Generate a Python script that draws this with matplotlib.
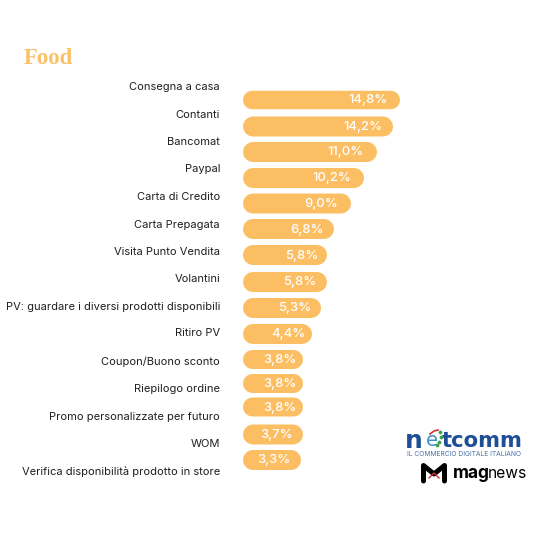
import matplotlib
matplotlib.use('Agg')
import matplotlib.pyplot as plt

categories = ['Consegna a casa', 'Contanti', 'Bancomat', 'Paypal', 'Carta di Credito',
              'Carta Prepagata', 'Visita Punto Vendita', 'Volantini',
              'PV: guardare i diversi prodotti disponibili', 'Ritiro PV',
              'Coupon/Buono sconto', 'Riepilogo ordine', 'Promo personalizzate per futuro',
              'WOM', 'Verifica disponibilità prodotto in store']
values = ['14,8%', '14,2%', '11,0%', '10,2%', '9,0%', '6,8%', '5,8%', '5,8%', '5,3%',
          '4,4%', '3,8%', '3,8%', '3,8%', '3,7%', '3,3%']
# the drawn bars are not to scale with the labels, so lengths are read off separately
bar_lengths = [157, 150, 134, 121, 108, 91, 84, 84, 78, 69, 60, 60, 60, 60, 58]

# hand placed rows, spacing in the original is uneven
bar_centers = [100, 126.5, 152, 178, 203.5, 229, 255, 282, 308, 334, 359.5, 383.5, 407, 434.5, 460]
bar_heights = [18.5, 20, 20, 20, 20, 20, 20, 20, 20, 20, 19, 19, 19, 20, 20]
label_centers = [87, 114.5, 142, 169.5, 197, 224.5, 252, 279.5, 306.5, 333.5, 361.5, 389, 416.5, 444, 471.5]
value_ends = [388, 382, 364, 351, 338, 323.5, 318, 316.5, 311, 305, 297, 297, 297, 293, 290.5]

ORANGE = '#FBBE62'
plt.rcParams['font.family'] = ['Inter', 'DejaVu Sans']

fig = plt.figure(figsize=(5.5, 5.5), dpi=100)
# axes cover the whole figure, one unit is one pixel
ax = fig.add_axes([0, 0, 1, 1])
ax.set_xlim(0, 550)
ax.set_ylim(550, 0)
ax.axis('off')

# pill shaped bars: thick line with round caps, lw is in points
for length, y, h in zip(bar_lengths, bar_centers, bar_heights):
    r = h / 2
    ax.plot([243 + r, 243 + length - r], [y, y], color=ORANGE, lw=h * 0.72,
            solid_capstyle='round', snap=False)

for name, y in zip(categories, label_centers):
    ax.text(220, y, name, ha='right', va='center', fontsize=8.0, color='#1f1f1f')
for val, end, y in zip(values, value_ends, bar_centers):
    ax.text(end, y + 0.5, val, ha='right', va='center', fontsize=9.4, color='white', fontweight='medium')

ax.text(24, 58.5, 'Food', ha='left', va='center', fontsize=16.4, color='#F9C168',
        fontweight='bold', family='Liberation Serif')

# netcomm logo as text
ax.text(405, 441, 'n', ha='left', va='center', fontsize=18, fontweight='bold', color='#1F4E96', family='DejaVu Sans')
ax.text(426, 441, 'e', ha='left', va='center', fontsize=14, color='#3C8FD0', family='DejaVu Sans')
ax.text(442, 441, 'tcomm', ha='left', va='center', fontsize=15.2, fontweight='bold', color='#1F4E96', family='DejaVu Sans')
ax.text(407, 454, 'IL COMMERCIO DIGITALE ITALIANO', ha='left', va='center', fontsize=4.8,
        color='#4A6FA5')
ax.scatter([440, 441, 439, 437], [432, 437, 442, 445], s=3, color='#3FA34D', zorder=3)
ax.plot([430, 434, 438], [434, 431, 430], color='#D0342C', lw=1.2)

# magnews logo
ax.plot([423.5, 423.5, 434, 444.5, 444.5], [481, 465.5, 474, 465.5, 481], color='black', lw=3.6,
        solid_joinstyle='round', solid_capstyle='round')
ax.plot([429, 434, 439], [478, 473, 478], color='#C8303A', lw=1)
ax.text(453, 473, 'mag', ha='left', va='center', fontsize=12.5, fontweight='bold', color='black')
ax.text(488, 473, 'news', ha='left', va='center', fontsize=11.2, color='black')

fig.savefig('out.png', dpi=100, facecolor='white')
